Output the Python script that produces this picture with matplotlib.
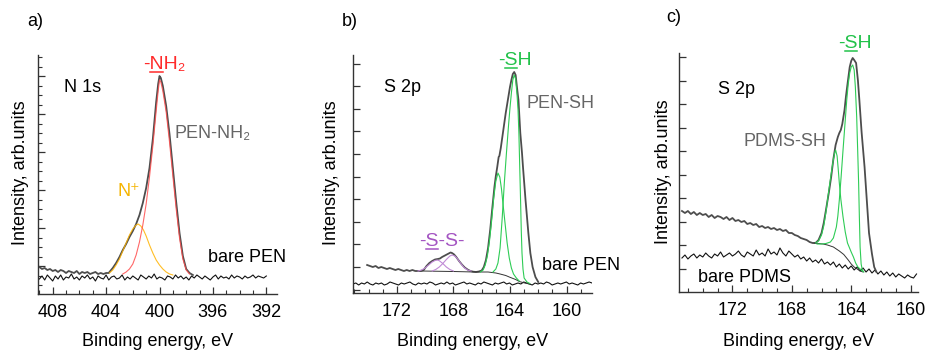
import numpy as np
import matplotlib
matplotlib.use("Agg")
import matplotlib.pyplot as plt
from matplotlib.ticker import FixedLocator, MultipleLocator
from matplotlib.lines import Line2D

plt.rcParams['font.family'] = ['Liberation Sans', 'DejaVu Sans']

# ---------------- DATA (intensity in arbitrary units) ----------------
# Panel a: N 1s
a_bare_range = (409.0, 392.0)
a_bare_y = [15,18,14,19,16,13,18,15,19,14,17,16,20,15,17,14,18,16,19,15,17,13,18,16,15,19,14,17,18,15,
            16,19,14,17,15,18,16,14,19,17,15,18,16,20,15,17,16,14,18,17,15,19,16,18,15,17,14,18,16,19,
            17,15,18,16,14,17,19,15,18,16,17,15,19,16,18,17,15,18,16,17,19,16,18,17,16,18]
a_env_noisy_range = (409.0, 403.8)
a_env_noisy_y = [27,25,26,24,25,23,24,22,24,23,21,23,22,21,23,20,22,21,22,20,21,22,20,21,20,21,21]
a_env_e = [403.75,403.5,403.25,403.0,402.75,402.5,402.25,402.0,401.75,401.5,401.25,401.0,400.75,400.5,
           400.25,400.1,400.0,399.9,399.75,399.5,399.25,399.0,398.75,398.5,398.25,398.0,397.75,397.5]
a_env_y = [22,26,31,37,44,50,57,63,70,79,91,106,126,155,192,210,218,216,208,188,160,126,92,61,38,25,21,19]
a_nh2_e = [402.75,402.5,402.25,402.0,401.75,401.5,401.25,401.0,400.75,400.5,400.25,400.1,400.0,399.9,
           399.75,399.5,399.25,399.0,398.75,398.5,398.25,398.0,397.75]
a_nh2_y = [20,22,25,30,39,52,69,90,117,148,183,203,214,212,203,182,152,118,85,56,35,24,20]
a_nplus_e = [403.75,403.5,403.25,403.0,402.75,402.5,402.25,402.0,401.75,401.6,401.4,401.2,401.0,400.75,
             400.5,400.25,400.0,399.75,399.5,399.25,399.0]
a_nplus_y = [21,24,29,35,43,51,59,65,69,70,68,64,58,49,41,34,29,25,22,20,19]

# Panel b: S 2p on PEN
b_bare_range = (175.1, 158.2)
b_bare_y = [9,10,8,10,9,11,9,8,10,9,10,8,9,11,10,9,8,10,9,10,11,9,8,10,9,10,9,11,10,8,9,10,9,11,9,10,8,
            9,10,11,9,10,9,8,10,9,11,10,9,8,10,9,10,11,9,10,8,9,10,9,11,10,9,8,10,9,10,9,11,10,8,9,10,9,
            10,11,9,10,9,8,10,9,10,11,10]
b_env_noisy_range = (174.1, 170.3)
b_env_noisy_y = [28,27,26,27,25,26,25,24,25,24,23,24,23,22,23,22,23,22,22,22]
b_env_e = [170.1,169.9,169.7,169.5,169.3,169.1,168.95,168.8,168.6,168.4,168.2,168.1,167.95,167.8,167.6,
           167.4,167.2,167.0,166.8,166.6,166.4,166.2,166.0,165.85,165.7,165.55,165.4,165.25,165.1,165.0,
           164.9,164.8,164.75,164.65,164.5,164.3,164.15,164.0,163.9,163.8,163.7,163.6,163.5,163.4,163.27,
           163.15,163.08,162.9,162.7,162.56,162.4,162.2,162.0]
b_env_y = [23,27,30,32,33.5,34,34.5,36,37.5,39,40.5,40,38.5,36,32,28.5,25.5,23.5,22,21.3,21,21.5,22.5,
           26,33,45,63,85,106,117,126,136,137,145,160,180,193,206,213,219,221,218,205,193,160,140,126,93,
           60,40,26,16,11]
b_bg_e = [170.3,168.0,166.5,165.55,165.0,164.7,164.3,164.0,163.6,163.3,162.9,162.6]
b_bg_y = [22,21.5,21,21,20,19,17.5,15.7,13.5,11.3,9.8,9]
b_sh1_e = [165.2,165.0,164.85,164.7,164.55,164.4,164.25,164.1,164.0,163.9,163.8,163.7,163.6,163.5,163.43,
           163.37,163.31,163.25,163.2,163.15,163.08,163.0,162.8,162.6]
b_sh1_y = [21,24,30,45,75,110,140,168,185,200,213,218,214,198,183,160,126,92,62,40,24,15,11,9.5]
b_sh2_e = [166.1,165.9,165.75,165.6,165.45,165.3,165.15,165.0,164.85,164.72,164.6,164.5,164.35,164.2,
           164.05,163.9,163.75,163.55,163.35]
b_sh2_y = [21,23,28,37,52,72,95,112,120,116,104,90,70,50,35,25,19,15,12]
b_ss1_e = [170.5,170.25,170.0,169.75,169.5,169.3,169.15,169.0,168.75,168.5,168.25,168.0]
b_ss1_y = [22,23,25,28,31,32.5,33,32.3,29.5,26,23.5,22]
b_ss2_e = [169.5,169.25,169.0,168.75,168.5,168.25,168.1,167.9,167.7,167.5,167.25,167.0,166.75]
b_ss2_y = [22,23.5,26,29.5,33.5,37,38,37,34,30,25.5,23,22]

# Panel c: S 2p on PDMS
c_bare_range = (175.4, 159.6)
c_bare_y = [34,37,33,36,38,34,37,35,39,36, 34,38,36,40,35,37,39,36,38,41,
            37,35,40,38,36,42,37,39,36,43, 38,40,37,44,39,36,41,38,35,37,
            33,35,31,34,30,32,29,33,28,30, 27,30,25,28,24,27,23,26,22,25,
            21,24,20,23,19,22,18,21,17,20, 16,19,15,18,16,14,17,15,14,18]
c_env_noisy_range = (175.4, 166.6)
c_env_noisy_y = [81,79,81,78,80,77,79,77,78,75,77,74,76,75,73,75,72,74,71,72,70,71,68,69,67,68,65,66,
                 64,65,63,64,62,63,61,62,59,59,57,56,54,53,52,50,49]
c_env_e = [166.4,166.2,166.0,165.85,165.7,165.5,165.35,165.2,165.05,164.9,164.8,164.7,164.6,164.45,164.35,
           164.24,164.1,164.0,163.9,163.8,163.67,163.55,163.45,163.3,163.1,162.95,162.8,162.6,162.45,162.3]
c_env_y = [49,52,59,69,82,100,115,133,147,155,159,162,168,182,196,209,225,231,234,232,229,212,192,160,125,
           92,59,38,25,20]
c_bg_e = [166.5,166.2,165.9,165.6,165.2,164.8,164.5,164.2,164.0,163.8,163.6,163.4,163.2]
c_bg_y = [49,48.5,48,47,45,41,37.5,32,28,25,23,21,20]
c_sh1_e = [166.3,166.0,165.7,165.4,165.2,165.0,164.9,164.8,164.68,164.55,164.42,164.3,164.2,164.1,164.0,
           163.9,163.8,163.72,163.63,163.56,163.5,163.45,163.4,163.33,163.25,163.15]
c_sh1_y = [48,48,48.5,50,54,65,76,92,115,142,168,192,208,219,225,227,222,205,175,140,109,75,45,28,22,20]
c_sh2_e = [166.4,166.2,166.0,165.85,165.7,165.55,165.4,165.25,165.12,165.05,164.95,164.88,164.8,164.7,
           164.55,164.4,164.25,164.0,163.85,163.7,163.55,163.4,163.25]
c_sh2_y = [49,51,57,66,80,97,113,128,139,142,136,124,109,93,75,60,49,40,35,29,25,23,21]

# ---------------- STYLE ----------------
W, H = 927, 352
ENV = '#4d4d4d'
BARE = '#111111'
RED = '#ff4d4d'
ORANGE = '#ffb300'
GREEN = '#2ecc55'
PURPLE = '#c08ad6'
FS = 13


def fp(x, y):
    return x / W, 1 - y / H


def grid(rng, vals):
    return np.linspace(rng[0], rng[1], len(vals))


fig = plt.figure(figsize=(W / 100, H / 100), dpi=100)
renderer = fig.canvas.get_renderer()


def make_axes(l, r, b, t, xlim, ylim_top):
    ax = fig.add_axes([l / W, (H - b) / H, (r - l) / W, (b - t) / H])
    ax.set_xlim(*xlim)
    ax.set_ylim(0, ylim_top)
    for s in ('top', 'right'):
        ax.spines[s].set_visible(False)
    for s in ('left', 'bottom'):
        ax.spines[s].set_color('#333333')
        ax.spines[s].set_linewidth(1.0)
    ax.xaxis.set_major_locator(MultipleLocator(4))
    ax.xaxis.set_minor_locator(MultipleLocator(1))
    ax.tick_params(axis='both', which='both', direction='in', colors='#333333', labelcolor='black',
                   labelsize=FS)
    ax.tick_params(axis='x', which='major', length=5, width=0.9, pad=7.5)
    ax.tick_params(axis='x', which='minor', length=3, width=0.8)
    ax.tick_params(axis='y', which='major', length=5, width=0.9, labelleft=False)
    ax.tick_params(axis='y', which='minor', length=3, width=0.8)
    ax.set_xlabel('Binding energy, eV', fontsize=FS)
    ax.xaxis.set_label_coords(0.5, -(341 - b) / (b - t))
    ax.xaxis.label.set_va('center')
    return ax


def ylabel(x, y):
    fig.text(*fp(x, y), 'Intensity, arb.units', rotation=90, ha='center', va='center', fontsize=FS)


def label(x, y, s, color='black', size=FS):
    fig.text(*fp(x, y), s, ha='center', va='center', fontsize=size, color=color)


def text_width(s, size):
    tt = fig.text(0, 0, s, fontsize=size)
    w = tt.get_window_extent(renderer).width
    tt.remove()
    return w


def underlined(x, ybase, pre, ch, post, color, size=14):
    """Text centred at x with baseline at ybase (pixels from top); character ch underlined."""
    t = fig.text(*fp(x, ybase), pre + ch + post, ha='center', va='baseline', fontsize=size, color=color)
    bb = t.get_window_extent(renderer)
    x0 = bb.x0 + text_width(pre, size) + 0.5
    x1 = bb.x0 + text_width(pre + ch, size) - 0.5
    yl = (H - ybase - 2.5) / H
    fig.add_artist(Line2D([x0 / W, x1 / W], [yl, yl], transform=fig.transFigure, color=color, lw=1.1))


# ---- Panel a ----
axa = make_axes(38, 277, 294, 55, (409.1, 391.2), 239)
axa.yaxis.set_major_locator(FixedLocator(np.arange(28, 239, 38)))
axa.yaxis.set_minor_locator(FixedLocator(np.arange(9, 239, 9.5)))
axa.plot(grid(a_bare_range, a_bare_y), a_bare_y, color=BARE, lw=0.8)
axa.plot(np.concatenate([grid(a_env_noisy_range, a_env_noisy_y), a_env_e]),
         np.concatenate([a_env_noisy_y, a_env_y]), color=ENV, lw=1.3)
axa.plot(a_nplus_e, a_nplus_y, color=ORANGE, lw=0.8, alpha=0.85)
axa.plot(a_nh2_e, a_nh2_y, color=RED, lw=0.8, alpha=0.85)
ylabel(21, 173)
label(35, 21, 'a)')
label(83, 88, 'N 1s')
underlined(164, 69, '-', 'N', 'H\u2082', '#ff2b2b')
label(213, 134, 'PEN-NH\u2082', color='#666666')
label(129, 192, 'N\u207a', color='#f5b400')
label(247, 258, 'bare PEN')

# ---- Panel b ----
axb = make_axes(353, 592, 293, 55, (175.1, 158.2), 238)
axb.yaxis.set_major_locator(FixedLocator(np.arange(3.5, 238, 22.6)))
axb.yaxis.set_minor_locator(FixedLocator([]))
axb.plot(grid(b_bare_range, b_bare_y), b_bare_y, color=BARE, lw=0.8)
axb.plot(np.concatenate([grid(b_env_noisy_range, b_env_noisy_y), b_env_e]),
         np.concatenate([b_env_noisy_y, b_env_y]), color=ENV, lw=1.3)
axb.plot(b_bg_e, b_bg_y, color='#333333', lw=0.7)
axb.plot(b_ss1_e, b_ss1_y, color=PURPLE, lw=0.8)
axb.plot(b_ss2_e, b_ss2_y, color=PURPLE, lw=0.8)
axb.plot(b_sh1_e, b_sh1_y, color=GREEN, lw=0.8)
axb.plot(b_sh2_e, b_sh2_y, color=GREEN, lw=0.8)
ylabel(331, 173)
label(350, 22, 'b)')
label(403, 88, 'S 2p')
underlined(515, 65, '-', 'S', 'H', '#22c24a')
label(561, 103, 'PEN-SH', color='#666666')
underlined(442, 246, '-', 'S', '-S-', '#a455c2')
label(581, 265, 'bare PEN')

# ---- Panel c ----
axc = make_axes(679, 918, 292, 53, (175.6, 159.5), 239)
axc.yaxis.set_major_locator(FixedLocator(np.arange(23.5, 239, 23.5)))
axc.yaxis.set_minor_locator(FixedLocator([]))
axc.plot(grid(c_bare_range, c_bare_y), c_bare_y, color=BARE, lw=0.8)
axc.plot(np.concatenate([grid(c_env_noisy_range, c_env_noisy_y), c_env_e]),
         np.concatenate([c_env_noisy_y, c_env_y]), color=ENV, lw=1.3)
axc.plot(c_bg_e, c_bg_y, color='#333333', lw=0.7)
axc.plot(c_sh1_e, c_sh1_y, color=GREEN, lw=0.8)
axc.plot(c_sh2_e, c_sh2_y, color=GREEN, lw=0.8)
ylabel(663, 172)
label(674, 18, 'c)')
label(737, 89, 'S 2p')
label(785, 141, 'PDMS-SH', color='#666666')
underlined(855, 48, '-', 'S', 'H', '#22c24a')
label(744, 277, 'bare PDMS')

fig.savefig('out.png', dpi=100)
